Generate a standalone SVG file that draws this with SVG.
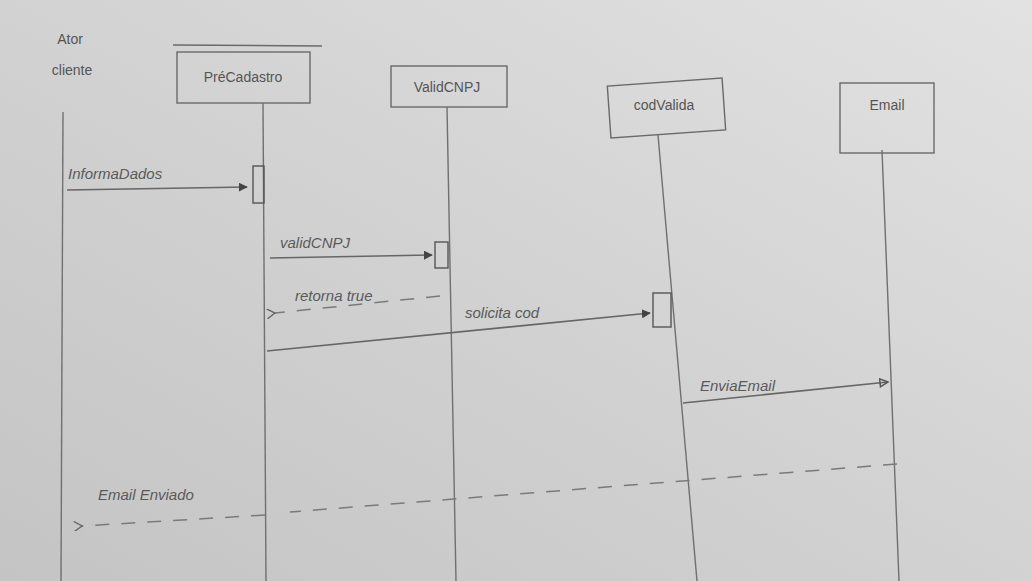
<svg xmlns="http://www.w3.org/2000/svg" width="1032" height="581" viewBox="0 0 1032 581">
<defs>
<linearGradient id="paper" x1="0" y1="1" x2="1" y2="0">
<stop offset="0" stop-color="#c4c4c4"/>
<stop offset="0.5" stop-color="#d2d2d2"/>
<stop offset="1" stop-color="#e2e2e2"/>
</linearGradient>
<marker id="filled" viewBox="0 0 10 10" refX="9" refY="5" markerWidth="9" markerHeight="9" orient="auto" markerUnits="userSpaceOnUse">
<path d="M0,0 L10,5 L0,10 z" fill="#444"/>
</marker>
<marker id="open" viewBox="0 0 10 10" refX="9" refY="5" markerWidth="10" markerHeight="10" orient="auto" markerUnits="userSpaceOnUse">
<path d="M1,1 L9,5 L1,9 z" fill="none" stroke="#555" stroke-width="1.5"/>
</marker>
<marker id="lt" viewBox="0 0 10 10" refX="1" refY="5" markerWidth="10" markerHeight="10" orient="auto" markerUnits="userSpaceOnUse">
<path d="M9,0 L1,5 L9,10" fill="none" stroke="#666" stroke-width="1.4"/>
</marker>
</defs>
<style>
.box{fill:none;stroke:#6a6a6a;stroke-width:1.4}
.life{stroke:#707070;stroke-width:1.4;fill:none}
.msg{stroke:#666;stroke-width:1.6;fill:none}
.dash{stroke:#7a7a7a;stroke-width:1.5;fill:none;stroke-dasharray:14 12}
.act{fill:none;stroke:#555;stroke-width:1.4}
.t{font-family:"Liberation Sans","DejaVu Sans",sans-serif;fill:#555;font-size:14px}
.lbl{font-family:"Liberation Sans","DejaVu Sans",sans-serif;fill:#5a5a5a;font-size:15px;font-style:italic}
</style>
<rect width="1032" height="581" fill="url(#paper)"/>

<g id="node-ator">
<text class="t" x="70" y="44" text-anchor="middle" font-size="12">Ator</text>
<text class="t" x="72" y="75" text-anchor="middle" font-size="15">cliente</text>
<line class="life" x1="63" y1="112" x2="61" y2="581"/>
</g>

<g id="node-precadastro">
<line class="box" x1="173" y1="45" x2="322" y2="46"/>
<rect class="box" x="177" y="52" width="133" height="51"/>
<text class="t" x="243" y="82" text-anchor="middle">PréCadastro</text>
<line class="life" x1="263" y1="103" x2="266" y2="581"/>
<rect class="act" x="253" y="166" width="11" height="37"/>
</g>

<g id="node-validcnpj">
<rect class="box" x="391" y="66" width="116" height="41"/>
<text class="t" x="447" y="92" text-anchor="middle">ValidCNPJ</text>
<line class="life" x1="447" y1="107" x2="456" y2="581"/>
<rect class="act" x="435" y="242" width="13" height="26"/>
</g>

<g id="node-codvalida">
<rect class="box" x="609" y="82" width="115" height="52" transform="rotate(-4 666 108)"/>
<text class="t" x="664" y="110" text-anchor="middle">codValida</text>
<line class="life" x1="658" y1="135" x2="697" y2="581"/>
<rect class="act" x="653" y="293" width="18" height="34"/>
</g>

<g id="node-email">
<rect class="box" x="840" y="83" width="94" height="70"/>
<text class="t" x="887" y="110" text-anchor="middle">Email</text>
<line class="life" x1="882" y1="150" x2="899" y2="581"/>
</g>

<g id="connectors">
<line class="msg" x1="67" y1="190" x2="247" y2="187" marker-end="url(#filled)"/>
<text class="lbl" x="68" y="179">InformaDados</text>

<line class="msg" x1="270" y1="258" x2="432" y2="255" marker-end="url(#filled)"/>
<text class="lbl" x="280" y="248" font-size="17">validCNPJ</text>

<line class="dash" x1="440" y1="296" x2="275" y2="313" marker-end="url(#lt)"/>
<text class="lbl" x="295" y="301">retorna true</text>

<line class="msg" x1="267" y1="351" x2="650" y2="313" marker-end="url(#filled)"/>
<text class="lbl" x="465" y="318" font-size="17">solicita cod</text>

<line class="msg" x1="683" y1="403" x2="888" y2="382" marker-end="url(#open)"/>
<text class="lbl" x="700" y="391">EnviaEmail</text>

<path class="dash" d="M897,464 L290,512"/>
<line class="dash" x1="265" y1="515" x2="82" y2="526" marker-end="url(#lt)"/>
<text class="lbl" x="98" y="500" font-size="16">Email Enviado</text>
</g>
</svg>
